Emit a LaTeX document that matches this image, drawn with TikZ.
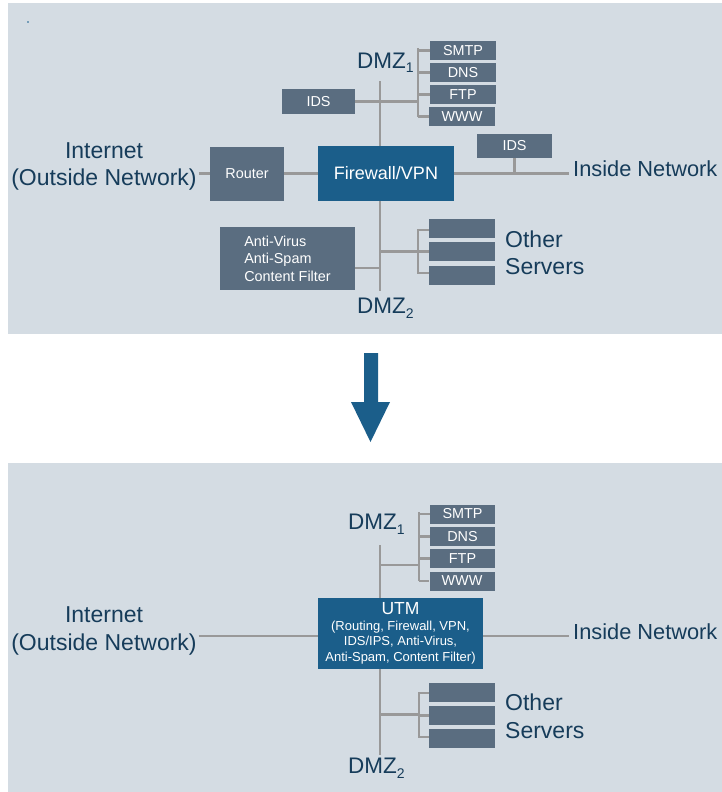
\documentclass[tikz,border=0pt]{standalone}
\usepackage{fontspec}
\setmainfont{Liberation Sans}
\definecolor{panelbg}{HTML}{D4DCE3}
\definecolor{slate}{HTML}{5A6D80}
\definecolor{fwblue}{HTML}{1B5E8A}
\definecolor{wiregray}{HTML}{999999}
\definecolor{navy}{HTML}{163C5A}
\newcommand{\subnum}[1]{\raisebox{-5pt}{\fontsize{14}{14}\selectfont #1}}
\begin{document}
\begin{tikzpicture}[x=1pt,y=-1pt,
  box/.style={fill=slate, text=white, inner sep=0pt, font=\fontsize{14.4}{17.5}\selectfont},
  srv/.style={box, minimum width=66pt, minimum height=19pt},
  bluebox/.style={fill=fwblue, text=white, inner sep=0pt},
  lbl/.style={text=navy, font=\fontsize{22.5}{26}\selectfont, inner xsep=2pt, inner ysep=0pt},
  biglbl/.style={lbl, font=\fontsize{23}{26}\selectfont},
  sidelbl/.style={lbl, font=\fontsize{21.8}{26}\selectfont, inner xsep=1pt},
  wire/.style={draw=wiregray, line width=2.7pt}]
\useasboundingbox (0,0) rectangle (722,792);
\fill[panelbg] (8,3) rectangle (722,334);
\fill[panelbg] (8,463) rectangle (722,792);
\fill[fwblue!60] (27,21) rectangle (29,23);

% ================= TOP PANEL =================
\node[srv] (smtpA) at (463,50.5) {SMTP};
\node[srv] (dnsA)  at (463,72.5) {DNS};
\node[srv] (ftpA)  at (463,94.5) {FTP};
\node[srv] (wwwA)  at (462,116.5) {WWW};
\node[box, minimum width=73pt, minimum height=25pt] (idsA) at (318.5,101.5) {IDS};
\node[box, minimum width=74pt, minimum height=54pt] (router) at (247,173.5) {Router};
\node[bluebox, minimum width=136pt, minimum height=55pt, font=\fontsize{18}{21}\selectfont] (fw) at (386,173.5) {Firewall/VPN};
\node[box, minimum width=75pt, minimum height=24pt] (idsB) at (514.5,146) {IDS};
\node[box, minimum width=135pt, minimum height=63pt, align=left] (av) at (287.5,258.5) {Anti-Virus\\Anti-Spam\\Content Filter};
\node[srv] (osA1) at (462,228.5) {};
\node[srv] (osA2) at (462,251.5) {};
\node[srv] (osA3) at (462,275.5) {};

\node[lbl, anchor=base west] (dmzA1) at (355,68) {DMZ\subnum{1}};
\node[lbl, anchor=base west] (dmzA2) at (355,313) {DMZ\subnum{2}};
\node[biglbl, anchor=base] (inetA1) at (104,158) {Internet};
\node[biglbl, anchor=base] (inetA2) at (104,185) {(Outside Network)};
\node[sidelbl, anchor=base west] (insideA) at (572,176) {Inside Network};
\node[biglbl, anchor=base west] (otherA1) at (503,247) {Other};
\node[biglbl, anchor=base west] (otherA2) at (503,274) {Servers};

% wires top
\draw[wire] (inetA2.east |- router.west) -- (router.west);
\draw[wire] (router.east) -- (fw.west);
\draw[wire] (fw.east) -- ([xshift=-3pt]fw.east -| insideA.west);
\draw[wire] (idsB.south) -- (idsB.south |- fw.east);
\coordinate (vAtop) at (380,81);
\coordinate (vAbot) at (380,291);
\draw[wire] (vAtop) -- (vAtop |- fw.north);
\draw[wire] (vAbot |- fw.south) -- (vAbot);
\coordinate (busAt) at (418,49);
\coordinate (busAb) at (418,116);
\draw[wire, line cap=rect] (busAt) -- (busAb);
\draw[wire] (smtpA.west -| busAt) -- (smtpA.west);
\draw[wire] (dnsA.west -| busAt) -- (dnsA.west);
\draw[wire] (ftpA.west -| busAt) -- (ftpA.west);
\draw[wire] (wwwA.west -| busAt) -- (wwwA.west);
\draw[wire] (idsA.east) -- (idsA.east -| busAt);
\coordinate (avj) at (380,268);
\draw[wire] (av.east |- avj) -- (avj);
\coordinate (busBt) at (418,230);
\coordinate (busBb) at (418,273);
\draw[wire, line cap=rect] (busBt) -- (busBb);
\draw[wire] (busBt) -- (osA1.west |- busBt);
\draw[wire] (osA2.west -| busBt) -- (osA2.west);
\draw[wire] (busBb) -- (osA3.west |- busBb);
\coordinate (osjA) at (379,251.5);
\draw[wire] (osjA) -- (osjA -| busBt);

% ================= ARROW =================
\fill[fwblue] (364,353) -- (378,353) -- (378,402) -- (390,402) -- (370.5,442) -- (351,402) -- (364,402) -- cycle;

% ================= BOTTOM PANEL =================
\node[srv, minimum width=65pt] (smtpB) at (462.5,514) {SMTP};
\node[srv, minimum width=65pt] (dnsB)  at (462.5,536.5) {DNS};
\node[srv, minimum width=65pt] (ftpB)  at (462.5,558.5) {FTP};
\node[srv, minimum width=65pt] (wwwB)  at (462,581) {WWW};
\node[bluebox, minimum width=165pt, minimum height=71pt, align=center, font=\fontsize{13}{15.5}\selectfont] (utm) at (400.5,633.5)
  {{\fontsize{17.5}{15}\selectfont UTM}\\(Routing, Firewall, VPN,\\IDS/IPS, Anti-Virus,\\Anti-Spam, Content Filter)};
\node[srv] (osB1) at (462,692.5) {};
\node[srv] (osB2) at (462,715.5) {};
\node[srv] (osB3) at (462,738) {};

\node[lbl, anchor=base west] (dmzB1) at (346,529) {DMZ\subnum{1}};
\node[lbl, anchor=base west] (dmzB2) at (346,773) {DMZ\subnum{2}};
\node[biglbl, anchor=base] (inetB1) at (104,622) {Internet};
\node[biglbl, anchor=base] (inetB2) at (104,650) {(Outside Network)};
\node[sidelbl, anchor=base west] (insideB) at (572,639) {Inside Network};
\node[biglbl, anchor=base west] (otherB1) at (503,710) {Other};
\node[biglbl, anchor=base west] (otherB2) at (503,738) {Servers};

% wires bottom
\coordinate (hB) at (0,636);
\draw[wire] (inetB2.east |- hB) -- (utm.west |- hB);
\draw[wire] (utm.east |- hB) -- ([xshift=-3pt]insideB.west |- hB);
\coordinate (vBtop) at (380,545);
\coordinate (vBbot) at (380,755);
\draw[wire] (vBtop) -- (vBtop |- utm.north);
\draw[wire] (vBbot |- utm.south) -- (vBbot);
\coordinate (busCt) at (419,513);
\coordinate (busCb) at (419,580);
\draw[wire, line cap=rect] (busCt) -- (busCb);
\draw[wire] (smtpB.west -| busCt) -- (smtpB.west);
\draw[wire] (dnsB.west -| busCt) -- (dnsB.west);
\draw[wire] (ftpB.west -| busCt) -- (ftpB.west);
\draw[wire] (wwwB.west -| busCt) -- (wwwB.west);
\coordinate (jC) at (379,565);
\draw[wire] (jC) -- (jC -| busCt);
\coordinate (busDt) at (419,693);
\coordinate (busDb) at (419,737);
\draw[wire, line cap=rect] (busDt) -- (busDb);
\draw[wire] (busDt) -- (osB1.west |- busDt);
\draw[wire] (osB2.west -| busDt) -- (osB2.west);
\draw[wire] (busDb) -- (osB3.west |- busDb);
\coordinate (jD) at (379,714.5);
\draw[wire] (jD) -- (jD -| busDt);
\end{tikzpicture}
\end{document}
